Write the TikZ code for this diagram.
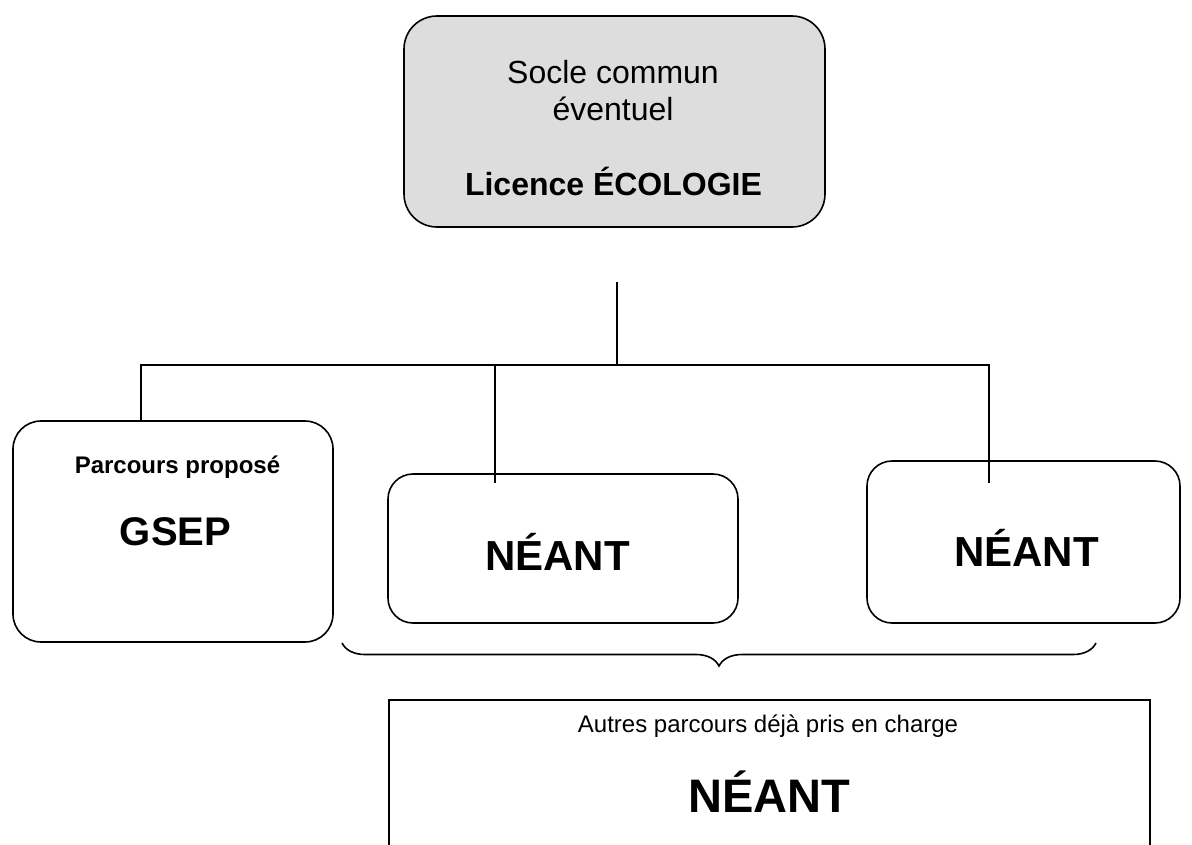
\documentclass[tikz,border=0pt]{standalone}
\usepackage{fontspec}
\setmainfont{Liberation Sans}
\usetikzlibrary{decorations.pathreplacing}
\definecolor{soclegray}{RGB}{221,221,221}

\begin{document}
\begin{tikzpicture}[x=1pt,y=-1pt]
	\tikzstyle{box}=[draw,line width=1.6pt,rounded corners=25pt,inner sep=0pt]
	\tikzstyle{link}=[line width=1.6pt]
	\tikzstyle{txt}=[anchor=base,inner sep=0pt]

	\clip (0,0) rectangle (1192,844);

	\node (socle) [box, rounded corners=33pt, fill=soclegray, minimum width=421pt, minimum height=211pt] at (614.5,121.5) {};
	\node (soclea) [txt, font=\fontsize{32}{38}\selectfont] at (613,83) {Socle commun};
	\node (socleb) [txt, font=\fontsize{32}{38}\selectfont] at (613,120) {éventuel};
	\node (licence) [txt, font=\fontsize{32}{38}\selectfont\bfseries] at (613.5,195) {Licence ÉCOLOGIE};

	\node (gsep) [box, rounded corners=28pt, minimum width=320pt, minimum height=221pt] at (173,531.5) {};
	\node (propose) [txt, font=\fontsize{24}{28}\selectfont\bfseries] at (177.5,473) {Parcours proposé};
	\node (gseptxt) [txt, font=\fontsize{40}{46}\selectfont\bfseries] at (175.5,545) {GSEP};

	\node (neantA) [box, minimum width=350pt, minimum height=149pt] at (563,548.5) {};
	\node (neantAtxt) [txt, font=\fontsize{42}{48}\selectfont\bfseries] at (557.5,570) {NÉANT};

	\node (neantB) [box, minimum width=313pt, minimum height=162pt] at (1023.5,542) {};
	\node (neantBtxt) [txt, font=\fontsize{42}{48}\selectfont\bfseries] at (1026.5,566) {NÉANT};

	\node (autres) [draw, line width=1.6pt, inner sep=0pt, minimum width=761pt, minimum height=200pt, anchor=north] at (769.5,699) {};
	\node (autrestxt) [txt, font=\fontsize{24}{28}\selectfont] at (768,732) {Autres parcours déjà pris en charge};
	\node (neantC) [txt, font=\fontsize{47}{54}\selectfont\bfseries] at (769.5,812) {NÉANT};

	\coordinate (stem) at (617,282);
	\coordinate (bus) at (617,365);
	\coordinate (busL) at (141,365);
	\coordinate (busM) at (495,365);
	\coordinate (busR) at (989,365);
	\coordinate (stubM) at (495,483);
	\coordinate (stubR) at (989,483);
	\draw[link] (stem) -- (bus);
	\draw[link] (busL |- gsep.north) -- (busL) -- (busR) -- (stubR);
	\draw[link] (busM) -- (stubM);

	\coordinate (braceL) at (342,643);
	\coordinate (braceR) at (1096,643);
	\draw[line width=1.6pt, decorate, decoration={brace, mirror, amplitude=23pt}] (braceL) -- (braceR);
\end{tikzpicture}
\end{document}
